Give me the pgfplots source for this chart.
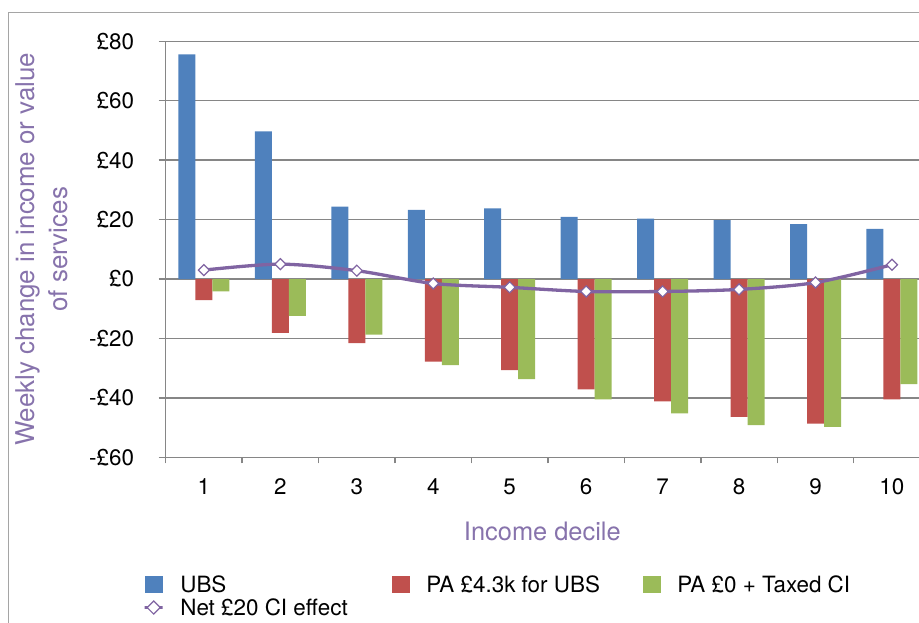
\documentclass[border=0pt]{standalone}
\usepackage{fontspec}
\setmainfont{TeX Gyre Heros}
\usepackage{pgfplots}
\pgfplotsset{compat=1.18}
\definecolor{ubsblue}{RGB}{79,129,189}
\definecolor{pared}{RGB}{192,80,77}
\definecolor{pagreen}{RGB}{155,187,89}
\definecolor{netpurple}{RGB}{128,100,162}
\definecolor{labpurple}{RGB}{135,115,172}
\definecolor{gridgray}{RGB}{134,134,134}
\definecolor{framegray}{RGB}{165,165,165}
\pgfplotsset{
  sqlegend/.style={legend image code/.code={\fill[##1,draw=none] (0bp,-8.5bp) rectangle (18bp,8.5bp);}},
  dmlegend/.style={legend image code/.code={\path (0bp,0bp) rectangle (18bp,0bp);\path[draw=none, mark=square*, mark size=4.6bp, mark options={rotate=45, fill=white, draw=netpurple, line width=1.2bp, solid}] plot coordinates {(9bp,0bp)};}},
}
\begin{document}
\begin{tikzpicture}
\path[use as bounding box] (-165.7bp,-165.7bp) rectangle (753.3bp,457.3bp);
\clip (-165.7bp,-165.7bp) rectangle (753.3bp,457.3bp);
\draw[framegray, line width=1.5bp] (-157.4bp,-300bp) rectangle (900bp,444.6bp);
\begin{axis}[
  at={(0,0)}, anchor=south west,
  scale only axis, width=753.3bp, height=416bp,
  xmin=0.5, xmax=10.354, ymin=-60, ymax=80,
  axis lines*=left,
  axis line style={gridgray, line width=1.5bp},
  ytick={-60,-40,...,80},
  yticklabels={-£60,-£40,-£20,£0,£20,£40,£60,£80},
  ymajorgrids,
  major grid style={gridgray, line width=1.5bp},
  xtick={1,...,10},
  tick align=outside,
  major tick length=7bp,
  tick style={gridgray, line width=1.5bp},
  xtick style={draw=none},
  extra x ticks={0.5,1.5,...,9.5},
  extra x tick labels={},
  extra x tick style={xtick style={draw=gridgray}, major tick length=6bp},
  /pgf/number format/assume math mode=true,
  tick label style={font=\fontsize{22.5}{27}\selectfont, text=black},
  yticklabel style={anchor=east, inner sep=0pt, xshift=-24.4bp},
  xticklabel style={anchor=north, inner sep=0pt, yshift=-14.2bp},
  xlabel={Income decile},
  ylabel={Weekly change in income or value\\of services},
  every axis x label/.style={at={(axis description cs:0.5,-0.1555)}, anchor=north, inner sep=0pt, font=\fontsize{25.5}{30}\selectfont, text=labpurple},
  every axis y label/.style={at={(axis description cs:-0.2,0.5)}, rotate=90, anchor=north, inner sep=0pt, align=center, font=\fontsize{26}{34}\selectfont, text=labpurple},
  legend style={at={(axis description cs:-0.0301,-0.2845)}, anchor=north west, draw=none, fill=none, inner sep=0pt, outer sep=0pt, column sep=0pt, row sep=4.5bp, nodes={inner sep=0pt}, font=\fontsize{22.5}{27}\selectfont},
  legend columns=3,
  legend cell align=left,
]
\addplot[ybar, bar width=17bp, bar shift=-17bp, fill=ubsblue, draw=none, sqlegend]
  coordinates {(1,75.6) (2,49.7) (3,24.4) (4,23.3) (5,23.8) (6,20.9) (7,20.3) (8,19.8) (9,18.5) (10,16.9)};
\addlegendentry{\makebox[228bp][l]{\hspace*{16bp}UBS}}
\addplot[ybar, bar width=17bp, bar shift=0bp, fill=pared, draw=none, sqlegend]
  coordinates {(1,-7.1) (2,-18.1) (3,-21.6) (4,-27.8) (5,-30.7) (6,-37.1) (7,-41.2) (8,-46.4) (9,-48.7) (10,-40.5)};
\addlegendentry{\makebox[233bp][l]{\hspace*{16bp}PA £4.3k for UBS}}
\addplot[ybar, bar width=17bp, bar shift=17bp, fill=pagreen, draw=none, sqlegend]
  coordinates {(1,-4.2) (2,-12.4) (3,-18.7) (4,-29.0) (5,-33.7) (6,-40.5) (7,-45.2) (8,-49.2) (9,-49.8) (10,-35.4)};
\addlegendentry{\hspace*{16bp}PA £0 + Taxed CI}
\addplot[netpurple, line width=3.3bp, smooth, mark=square*, mark size=3.9bp,
  mark options={rotate=45, fill=white, draw=netpurple, line width=1.2bp, solid}, dmlegend]
  coordinates {(1,3.0) (2,5.0) (3,2.8) (4,-1.5) (5,-2.8) (6,-4.2) (7,-4.2) (8,-3.5) (9,-1.2) (10,4.8)};
\addlegendentry{\hspace*{16bp}Net £20 CI effect}
\end{axis}
\end{tikzpicture}
\end{document}
